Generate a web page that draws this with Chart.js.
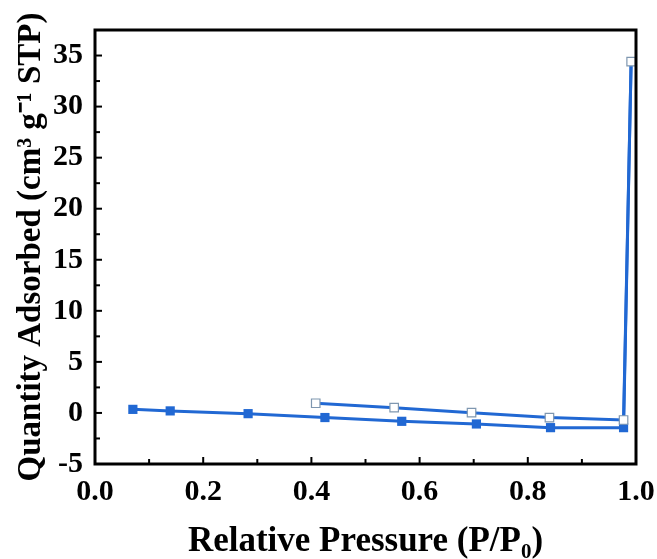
<!DOCTYPE html>
<html>
<head>
<meta charset="utf-8">
<script src="https://cdn.jsdelivr.net/npm/chart.js@4"></script>
<style>
  html, body { margin: 0; padding: 0; background: #fff; }
  #wrap { width: 657px; height: 559px; }
</style>
</head>
<body>
<div id="wrap"><canvas id="chart" width="657" height="559"></canvas></div>
<script>
// adsorption branch (filled squares), last point is the top of the loop
const adsX = [0.07, 0.139, 0.283, 0.425, 0.567, 0.705, 0.842, 0.977, 0.991];
const adsY = [0.35, 0.2, -0.07, -0.45, -0.82, -1.08, -1.44, -1.44, 34.4];
// desorption branch (open squares)
const desX = [0.991, 0.977, 0.84, 0.696, 0.553, 0.408];
const desY = [34.4, -0.69, -0.45, 0.03, 0.52, 0.95];
// axis ranges
const xMin = 0, xMax = 1.0, xStep = 0.1;
const yMin = -5, yMax = 37.5, yStep = 2.5;

const BLUE = '#2168d3';
const FONT = "'Liberation Serif', 'Times New Roman', serif";

const toPoints = (xs, ys) => xs.map((x, i) => ({ x: x, y: ys[i] }));

// frame + inward ticks (major/minor)
const framePlugin = {
    id: 'frame',
    afterDatasetsDraw(chart) {
        const ctx = chart.ctx;
        const a = chart.chartArea;
        const xs = chart.scales.x, ys = chart.scales.y;
        ctx.save();
        ctx.strokeStyle = '#000';
        ctx.lineWidth = 2;
        xs.ticks.forEach(t => {
            const px = xs.getPixelForValue(t.value);
            const major = Math.round(t.value * 10) % 2 === 0;
            ctx.beginPath();
            ctx.moveTo(px, a.bottom);
            ctx.lineTo(px, a.bottom - (major ? 7 : 5));
            ctx.stroke();
        });
        ys.ticks.forEach(t => {
            const py = ys.getPixelForValue(t.value);
            const major = Math.round(t.value * 2) % 2 === 0;
            ctx.beginPath();
            ctx.moveTo(a.left, py);
            ctx.lineTo(a.left + (major ? 7 : 5), py);
            ctx.stroke();
        });
        ctx.lineWidth = 3;
        ctx.strokeRect(a.left, a.top, a.right - a.left, a.bottom - a.top);
        ctx.restore();
    }
};

new Chart(document.getElementById('chart'), {
    type: 'scatter',
    data: {
        datasets: [
            {
                label: 'Desorption',
                data: toPoints(desX, desY),
                showLine: true,
                borderColor: BLUE,
                borderWidth: 3,
                pointStyle: 'rect',
                pointRadius: 6,
                pointBorderWidth: 1.2,
                pointBorderColor: '#7f97b0',
                pointBackgroundColor: '#fff',
                order: 0
            },
            {
                label: 'Adsorption',
                data: toPoints(adsX, adsY),
                showLine: true,
                borderColor: BLUE,
                borderWidth: 3,
                pointStyle: 'rect',
                pointRadius: adsX.map((x, i) => i === adsX.length - 1 ? 0 : 6.5),
                pointBorderWidth: 0,
                pointBackgroundColor: BLUE,
                order: 1
            }
        ]
    },
    options: {
        responsive: false,
        animation: false,
        layout: { padding: { left: 0, top: 30, right: 21, bottom: 0 } },
        plugins: {
            legend: { display: false },
            tooltip: { enabled: false }
        },
        scales: {
            x: {
                type: 'linear',
                min: xMin, max: xMax,
                afterFit: s => { s.height = 95; s.paddingLeft = 0; s.paddingRight = 0; },
                grid: { display: false, drawTicks: false },
                border: { display: false },
                ticks: {
                    stepSize: xStep,
                    autoSkip: false,
                    maxRotation: 0,
                    padding: 10,
                    color: '#000',
                    font: { family: FONT, size: 30, weight: 'bold' },
                    callback: v => Math.round(v * 10) % 2 === 0 ? v.toFixed(1) : ''
                },
                title: {
                    display: true,
                    text: 'Relative Pressure (P/P\u2080)',
                    color: '#000',
                    font: { family: FONT, size: 35, weight: 'bold', lineHeight: 1 },
                    padding: { top: 0, bottom: 0 }
                }
            },
            y: {
                type: 'linear',
                min: yMin, max: yMax,
                afterFit: s => { s.width = 95; s.paddingTop = 0; s.paddingBottom = 0; },
                grid: { display: false, drawTicks: false },
                border: { display: false },
                ticks: {
                    stepSize: yStep,
                    autoSkip: false,
                    padding: 12,
                    color: '#000',
                    font: { family: FONT, size: 30, weight: 'bold' },
                    callback: v => Math.round(v * 2) % 2 === 0 && v !== yMax ? String(v) : ''
                },
                title: {
                    display: true,
                    text: 'Quantity Adsorbed (cm\u00B3 g\u207B\u00B9 STP)',
                    color: '#000',
                    font: { family: FONT, size: 33, weight: 'bold' },
                    padding: { top: 12, bottom: 0 }
                }
            }
        }
    },
    plugins: [framePlugin]
});
</script>
</body>
</html>
